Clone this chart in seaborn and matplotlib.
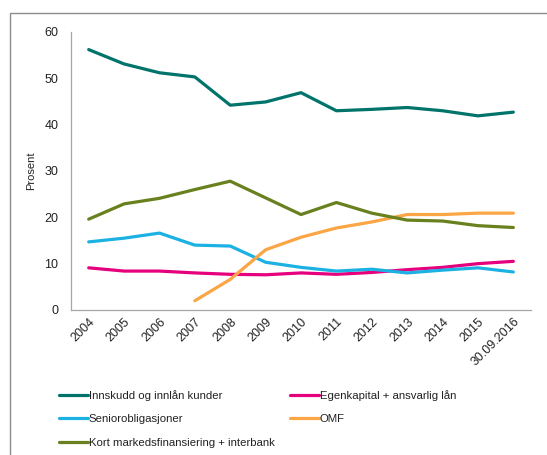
import matplotlib
matplotlib.use("Agg")
import matplotlib.pyplot as plt
import seaborn as sns
import pandas as pd
from matplotlib.patches import Rectangle

# Data (andel av total finansiering, prosent)
years = ['2004', '2005', '2006', '2007', '2008', '2009', '2010', '2011',
         '2012', '2013', '2014', '2015', '30.09.2016']
innskudd = [56.2, 53.1, 51.2, 50.3, 44.2, 44.9, 46.9, 43.0, 43.3, 43.7, 43.0, 41.9, 42.7]
egenkapital = [9.1, 8.4, 8.4, 8.0, 7.7, 7.6, 8.0, 7.7, 8.1, 8.7, 9.2, 10.0, 10.5]
senior = [14.7, 15.5, 16.6, 14.0, 13.8, 10.3, 9.2, 8.4, 8.8, 8.0, 8.6, 9.1, 8.2]
omf = [None, None, None, 2.0, 6.6, 13.0, 15.7, 17.7, 19.0, 20.6, 20.6, 20.9, 20.9]
kort = [19.6, 22.9, 24.1, 26.0, 27.8, 24.2, 20.6, 23.2, 20.9, 19.4, 19.2, 18.2, 17.8]

series = {
    'Innskudd og innlån kunder': innskudd,
    'Egenkapital + ansvarlig lån': egenkapital,
    'Seniorobligasjoner': senior,
    'OMF': omf,
    'Kort markedsfinansiering + interbank': kort,
}
colors = ['#00736A', '#E6007E', '#1BB1E3', '#FBA545', '#68801E']

df = pd.DataFrame(series)
df['pos'] = range(len(years))
long = df.melt(id_vars='pos', var_name='serie', value_name='verdi').dropna()

sns.set_style('white')
plt.rcParams['font.family'] = ['Liberation Sans', 'DejaVu Sans']

fig = plt.figure(figsize=(5.47, 4.55), dpi=100)
ax = fig.add_axes([0.1298, 0.3187, 0.841, 0.611])

sns.lineplot(data=long, x='pos', y='verdi', hue='serie', palette=colors,
             hue_order=list(series.keys()), linewidth=2.3, ax=ax, legend=False)

ax.set_xlim(-0.5, len(years) - 0.5)
ax.set_ylim(0, 60)
ax.set_yticks(range(0, 61, 10))
ax.set_xticks(range(len(years)))
ax.set_xticklabels(years, rotation=45, ha='right', rotation_mode='anchor')
ax.set_xticks([-0.5, 3.5, 7.5, 11.5], minor=True)
ax.tick_params(axis='x', which='major', length=0, pad=4, labelsize=9, labelcolor='#222222')
ax.tick_params(axis='x', which='minor', length=4, width=0.8, color='#A6A6A6', direction='out')
ax.tick_params(axis='y', length=4, width=0.8, color='#A6A6A6', direction='out',
               labelsize=9, labelcolor='#222222', pad=5)
ax.set_xlabel('')
ax.set_ylabel('Prosent', fontsize=8, color='#222222', labelpad=6)

for side in ['top', 'right']:
    ax.spines[side].set_visible(False)
for side in ['left', 'bottom']:
    ax.spines[side].set_color('#A6A6A6')
    ax.spines[side].set_linewidth(0.9)

# legend: Excel-like row order in two columns
names = list(series.keys())
handles = [plt.Line2D([], [], color=c, linewidth=2.3) for c in colors]
order = [0, 2, 4, 1, 3]
fig.legend([handles[i] for i in order], [names[i] for i in order],
           loc='upper left', bbox_to_anchor=(53 / 547, 1 - 384 / 455),
           ncol=2, frameon=False, fontsize=8.2, borderpad=0,
           handlelength=2.6, handletextpad=0.05, columnspacing=1.3,
           labelspacing=1.2, labelcolor='#222222')

# chart area border (partly outside the picture)
fig.patches.append(Rectangle((9.5 / 547, -0.1), 1.2, 1 - 12.7 / 455 + 0.1,
                             transform=fig.transFigure, fill=False,
                             edgecolor='#8C8C8C', linewidth=1.0))

fig.savefig('out.png', dpi=100)
